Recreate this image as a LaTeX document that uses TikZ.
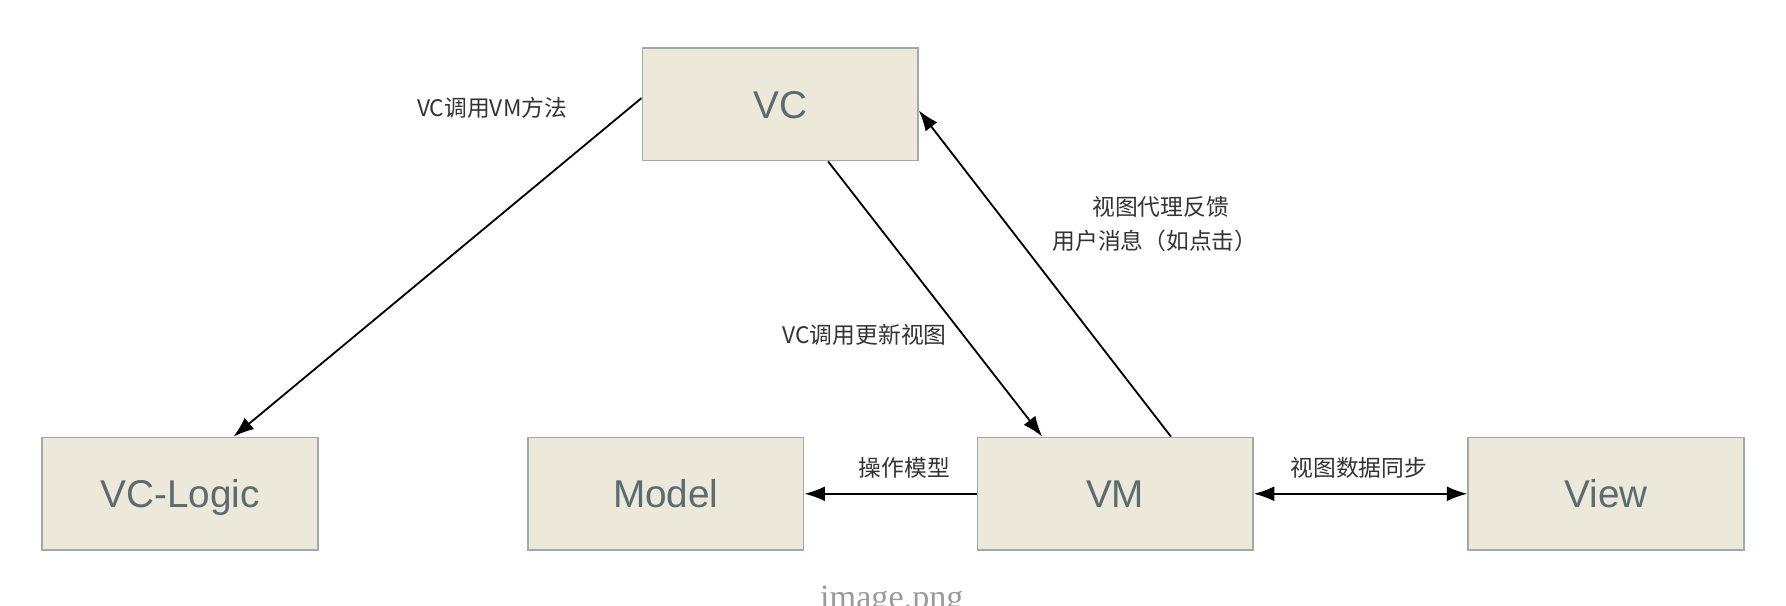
\documentclass[tikz,border=0pt]{standalone}
\usepackage{fontspec}
\setmainfont{Liberation Sans}
\newfontfamily\cjk{Noto Sans CJK SC}
\newfontfamily\capfont{Liberation Serif}
\usetikzlibrary{arrows.meta}
\definecolor{boxfill}{HTML}{ECE8DA}
\definecolor{boxline}{HTML}{A0ABA8}
\definecolor{boxtext}{HTML}{5B6B70}
\definecolor{labtext}{HTML}{333333}
\definecolor{captext}{HTML}{9A9A9A}
\tikzset{
  box/.style={draw=boxline, fill=boxfill, line width=0.7pt, minimum width=121pt,
    minimum height=49.5pt, inner sep=0pt, text=boxtext, text height=12.2pt, text depth=0pt,
    font=\fontsize{17pt}{20pt}\selectfont},
  lab/.style={text=labtext, inner sep=0pt, font=\cjk\fontsize{10pt}{12pt}\selectfont},
  conn/.style={line width=0.8pt, -{Latex[length=9pt,width=6.5pt]}},
  conn2/.style={line width=0.8pt, {Latex[length=9pt,width=6.5pt]}-{Latex[length=9pt,width=6.5pt]}}
}
\begin{document}
\begin{tikzpicture}[x=0.5pt,y=-0.5pt]
\useasboundingbox (0,0) rectangle (1568,532);
\node[box] (vc)  at (685,91.5) {VC};
\node[box] (vcl) at (158,433.5) {VC-Logic};
\node[box] (model) at (584.5,433.5) {Model};
\node[box] (vm) at (979,433.5) {VM};
\node[box] (view) at (1410,433.5) {View};

\draw[conn] ([yshift=2.75pt]vc.west) -- ([xshift=23.5pt]vcl.north);
\draw[conn] ([xshift=21pt]vc.south) -- ([xshift=-32pt]vm.north);
\draw[conn] ([xshift=24.5pt]vm.north) -- ([yshift=-2.75pt]vc.east);
\draw[conn] (vm.west) -- (model.east);
\draw[conn2] (vm.east) -- (view.west);

\node[lab] (l1) at (432,95) {VC调用VM方法};
\node[lab] (l2) at (759,294) {VC调用更新视图};
\node[lab] (l3) at (1019,181.5) {视图代理反馈};
\node[lab] (l4) at (1014,211) {用户消息（如点击）};
\node[lab] (l5) at (794,411) {操作模型};
\node[lab] (l6) at (1193,411) {视图数据同步};
\node[text=captext, inner sep=0pt, anchor=base, font=\capfont\fontsize{15pt}{18pt}\selectfont] (cap) at (783,534) {image.png};
\end{tikzpicture}
\end{document}
